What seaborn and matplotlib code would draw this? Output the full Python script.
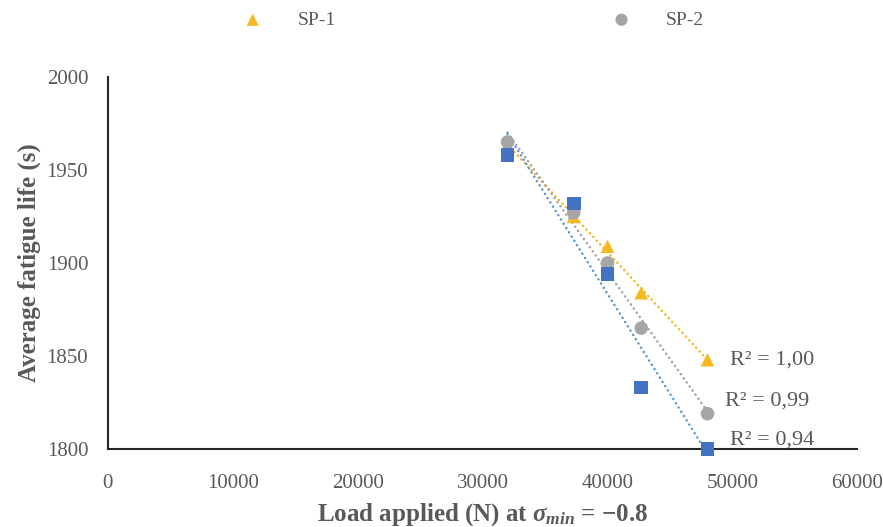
import pandas as pd
import seaborn as sns
import matplotlib.pyplot as plt

# 数据
load = [32000, 37300, 40000, 42700, 48000]
sp1 = [1963, 1925, 1909, 1884, 1848]
sp2 = [1965, 1927, 1900, 1865, 1819]
sp3 = [1958, 1932, 1894, 1833, 1800]
r2_labels = ['R² = 1,00', 'R² = 0,99', 'R² = 0,94']

sns.set_style('white')
plt.rcParams['font.family'] = ['Liberation Serif', 'DejaVu Serif']
plt.rcParams['mathtext.fontset'] = 'custom'
plt.rcParams['mathtext.it'] = 'Liberation Serif:italic:bold'
plt.rcParams['mathtext.rm'] = 'Liberation Serif:bold'

txt_color = '#595959'
series = [
    ('SP-1', sp1, '^', '#F5B922', '#F5B922'),
    ('SP-2', sp2, 'o', '#A5A5A5', '#A5A5A5'),
    ('SP-3', sp3, 's', '#4472C4', '#5B9BD5'),
]

fig = plt.figure(figsize=(8.83, 5.27), dpi=100)
ax = fig.add_axes([0.122, 0.148, 0.849, 0.706])

handles = []
for name, vals, mk, col, tcol in series:
    df = pd.DataFrame({'load': load, 'life': vals})
    # 趋势线 (点线)
    sns.regplot(data=df, x='load', y='life', ax=ax, scatter=False, ci=None,
                line_kws=dict(color=tcol, linestyle=(0, (0.01, 1.9)), linewidth=1.9,
                              dash_capstyle='round'))
    h = ax.scatter(load, vals, marker=mk, s=95, color=col, edgecolor='none',
                   zorder=3, label=name, clip_on=False)
    handles.append(h)

# R² 标注
for yv, lab, xv in zip([1848, 1826, 1805], r2_labels, [49800, 49400, 49800]):
    ax.text(xv, yv, lab, fontsize=16, color=txt_color, va='center')

ax.set_xlim(0, 60000)
ax.set_ylim(1800, 2000)
ax.set_xticks(range(0, 60001, 10000))
ax.set_yticks(range(1800, 2001, 50))
ax.tick_params(axis='both', labelsize=15, colors=txt_color, length=0)
ax.tick_params(axis='x', pad=18)
ax.tick_params(axis='y', pad=14)
for s in ['top', 'right']:
    ax.spines[s].set_visible(False)
for s in ['left', 'bottom']:
    ax.spines[s].set_color('#262626')
    ax.spines[s].set_linewidth(1.5)

ax.set_xlabel(r'Load applied (N) at $\sigma_{min}$ = −0.8', fontsize=18,
              fontweight='bold', color=txt_color, labelpad=6)
ax.set_ylabel('Average fatigue life (s)', fontsize=18, fontweight='bold',
              color=txt_color, labelpad=4)
ax.grid(False)

fig.legend(handles=handles[:2], loc='center', bbox_to_anchor=(0.531, 0.962),
           ncol=2, frameon=False, fontsize=14, columnspacing=13.7,
           handletextpad=1.3, labelcolor=txt_color, markerscale=0.9)

plt.savefig('out.png', dpi=100)
plt.close()
